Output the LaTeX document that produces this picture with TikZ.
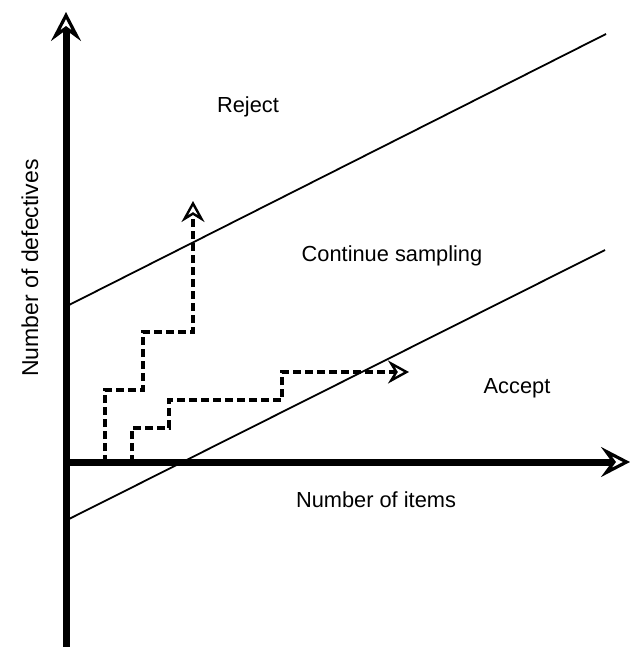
\documentclass[tikz,border=0pt]{standalone}
\usepackage{fontspec}
\setmainfont{Liberation Sans}
\usetikzlibrary{arrows.meta}
\begin{document}
\begin{tikzpicture}[x=1pt,y=-1pt,
 axis/.style={line width=7pt, -{Stealth[open,length=29pt,width=30pt,inset=11pt,line width=3.2pt]}},
 bound/.style={line width=1.8pt},
 walk/.style={line width=3.4pt, dash pattern=on 8pt off 4pt, -{Stealth[open,length=21pt,width=23pt,inset=7pt,line width=2.4pt]}},
 lbl/.style={font=\fontsize{21.8}{26}\selectfont, anchor=base, inner sep=0pt}]
\useasboundingbox (0,0) rectangle (640,647);
% axes
\coordinate (ybot) at (66,650);
\coordinate (ytop) at (66,12);
\coordinate (xstart) at (66,462);
\coordinate (xend) at (630,462);
\draw[axis] (ybot) -- (ytop);
\draw[axis] (xstart) -- (xend);
% boundary lines
\coordinate (u0) at (69,305);
\coordinate (u1) at (606,34);
\coordinate (l0) at (69,519);
\coordinate (l1) at (605,250);
\draw[bound] (u0) -- (u1);
\draw[bound] (l0) -- (l1);
% sample paths
\coordinate (a0) at (105,463);
\coordinate (a1) at (193,201);
\draw[walk] (a0) |- (143,390) |- (193,332) -- (a1);
\coordinate (b0) at (132,463);
\coordinate (b1) at (409,372);
\draw[walk] (b0) |- (169,428) |- (282,400) |- (b1);
% labels
\node[lbl] (rej) at (248,113) {Reject};
\node[lbl] (cont) at (392,261) {Continue sampling};
\node[lbl] (acc) at (517,393) {Accept};
\node[lbl] (xl) at (376,507) {Number of items};
\node[lbl, rotate=90, font=\fontsize{23}{28}\selectfont] (yl) at (38,268) {Number of defectives};
\end{tikzpicture}
\end{document}
